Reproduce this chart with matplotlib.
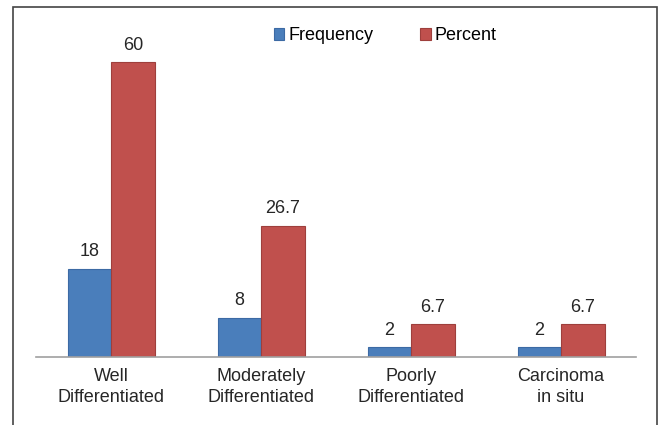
import matplotlib.pyplot as plt
from matplotlib.patches import Rectangle
import numpy as np

plt.rcParams['font.family'] = ['Liberation Sans', 'DejaVu Sans']

categories = ["Well\nDifferentiated", "Moderately\nDifferentiated",
              "Poorly\nDifferentiated", "Carcinoma\nin situ"]
frequency = [18, 8, 2, 2]
percent = [60, 26.7, 6.7, 6.7]
freq_labels = ["18", "8", "2", "2"]
pct_labels = ["60", "26.7", "6.7", "6.7"]

fig = plt.figure(figsize=(6.59, 4.25), dpi=100)
ax = fig.add_axes([36 / 659, 68 / 425, 600 / 659, 344 / 425])

x = np.arange(len(categories))
w = 0.29
b1 = ax.bar(x - w / 2, frequency, w, color="#4a7ebb", edgecolor="#3c6aa4",
            linewidth=0.8, label="Frequency")
b2 = ax.bar(x + w / 2, percent, w, color="#c0504d", edgecolor="#9e3f3c",
            linewidth=0.8, label="Percent")

for bars, labs in ((b1, freq_labels), (b2, pct_labels)):
    for r, t in zip(bars, labs):
        ax.annotate(t, (r.get_x() + r.get_width() / 2, r.get_height()),
                    xytext=(0, 6), textcoords="offset points",
                    ha="center", va="bottom", fontsize=13, color="#262626")

ax.set_xlim(-0.5, 3.5)
ax.set_ylim(0, 70)
ax.set_xticks(x)
ax.set_xticklabels(categories, fontsize=13, color="#262626", linespacing=1.3)
ax.tick_params(axis="x", length=0, pad=8)
ax.set_yticks([])
for s in ("left", "top", "right"):
    ax.spines[s].set_visible(False)
ax.spines["bottom"].set_color("#a0a0a0")
ax.spines["bottom"].set_linewidth(1.2)

fig.legend(loc="center", bbox_to_anchor=(385 / 659, 1 - 36 / 425), ncol=2,
           frameon=False, fontsize=13, handlelength=0.6, handleheight=0.6,
           handletextpad=0.2, columnspacing=2.6)

# outer chart border
fig.patches.append(Rectangle((13 / 659, -0.1), 644 / 659, 1.1 - 7 / 425,
                             transform=fig.transFigure, fill=False,
                             edgecolor="#444444", linewidth=1.2))

fig.savefig("out.png", dpi=100)
